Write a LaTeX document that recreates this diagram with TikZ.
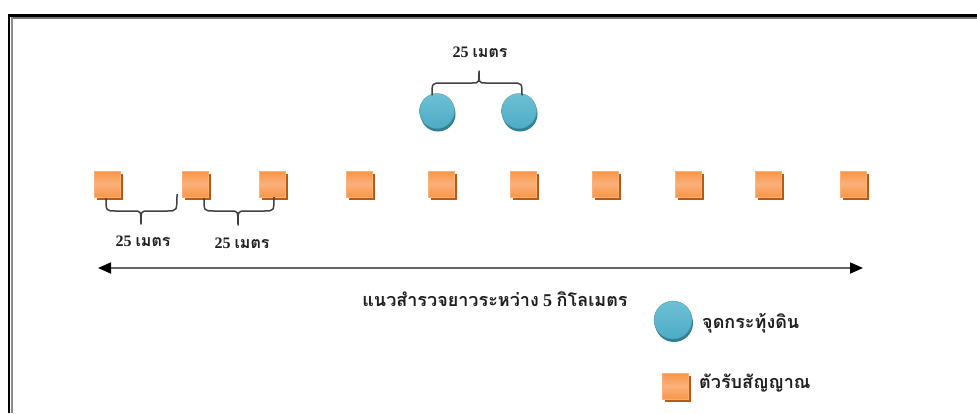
\documentclass[tikz,border=0pt]{standalone}
\usepackage{fontspec}
\setmainfont{Liberation Serif}
\newfontfamily\thaifont[Script=Thai]{Loma}
\usetikzlibrary{arrows.meta,shadows,calc}
\definecolor{sqor}{HTML}{F79646}
\definecolor{sqlt}{HTML}{FBB07A}
\definecolor{sqsh}{HTML}{B65A18}
\definecolor{cbl}{HTML}{4BACC6}
\definecolor{cblt}{HTML}{6FC0D4}
\definecolor{cdk}{HTML}{2E7F94}
\definecolor{txt}{HTML}{1E1E1E}
\tikzset{
  sensor/.style={rectangle, minimum size=26pt, inner sep=0pt, draw=sqlt, line width=0.6pt,
    top color=sqor, bottom color=sqor, middle color=sqlt,
    drop shadow={shadow xshift=3pt, shadow yshift=-3pt, fill=sqsh, opacity=1}},
  source/.style={circle, minimum size=#1, inner sep=0pt, draw=cdk!80, line width=0.4pt,
    top color=cblt, bottom color=cbl,
    drop shadow={shadow xshift=1pt, shadow yshift=-3pt, fill=cdk, opacity=1}},
  lbl/.style={font=\bfseries\fontsize{16}{18}\selectfont, text=txt, inner sep=1pt},
  bigl/.style={font=\bfseries\fontsize{18}{20}\selectfont, text=txt, inner sep=1pt},
  bracel/.style={draw=black!75, line width=1.5pt, line join=round},
  dimarrow/.style={draw=black!60, line width=1.8pt, {Triangle[length=13pt,width=11pt,fill=black,color=black]}-{Triangle[length=13pt,width=11pt,fill=black,color=black]}}
}
\newcommand{\tm}[1]{{\thaifont #1}}
\begin{document}
\begin{tikzpicture}[x=1pt,y=-1pt]
\useasboundingbox (0,0) rectangle (977,413);
% frame
\draw[black, line width=3pt] (8.5,15) -- (977,15);
\draw[black!55, line width=1.2pt] (11,18) -- (977,18);
\draw[black, line width=2pt] (9,14) -- (9,413);
\draw[black!45, line width=1.5pt] (12,17) -- (12,413);
% sensors
\foreach \i/\x in {1/107,2/195,3/272,4/359,5/441,6/523,7/605,8/688,9/768,10/853}
  \node[sensor] (r\i) at (\x,184) {};
% sources
\node[source=35pt] (c1) at (437,111) {};
\node[source=35pt] (c2) at (519,111) {};
% braces
\coordinate (b1a) at (106,198);
\coordinate (b1b) at (177,194);
\draw[bracel] (b1a) .. controls (106,211) .. (116,211) -- (134,211) .. controls (141,211) .. (141,224)
  .. controls (141,211) .. (148,211) -- (167,211) .. controls (177,211) .. (b1b);
\coordinate (b2a) at (204,198);
\coordinate (b2b) at (274,197);
\draw[bracel] (b2a) .. controls (204,211) .. (214,211) -- (231,211) .. controls (238,211) .. (238,225)
  .. controls (238,211) .. (245,211) -- (264,211) .. controls (274,211) .. (b2b);
\coordinate (t1) at ($(c1.north)+(-5,2)$);
\coordinate (t2) at ($(c2.north)+(3,2)$);
\draw[bracel] (t1) .. controls (432,83) .. (442,83) -- (472,83) .. controls (479,83) .. (479,71)
  .. controls (479,83) .. (486,83) -- (512,83) .. controls (522,83) .. (t2);
\node[lbl] (l1) at (143,241) {25 \tm{เมตร}};
\node[lbl] (l2) at (242,243) {25 \tm{เมตร}};
\node[lbl] (l3) at (480,52) {25 \tm{เมตร}};
% arrow
\coordinate (al) at (98,268);
\coordinate (ar) at (863,268);
\draw[dimarrow] (al) -- (ar);
\node[bigl] (line) at (495,299) {\tm{แนวสำรวจยาวระหว่าง} 5 \tm{กิโลเมตร}};
% legend
\node[source=38pt] (lc) at (673,320) {};
\node[bigl, anchor=west] (lct) at (701,323) {\tm{จุดกระทุ้งดิน}};
\node[sensor] (ls) at (675,386) {};
\node[bigl, anchor=west] (lst) at (698,383) {\tm{ตัวรับสัญญาณ}};
\end{tikzpicture}
\end{document}
